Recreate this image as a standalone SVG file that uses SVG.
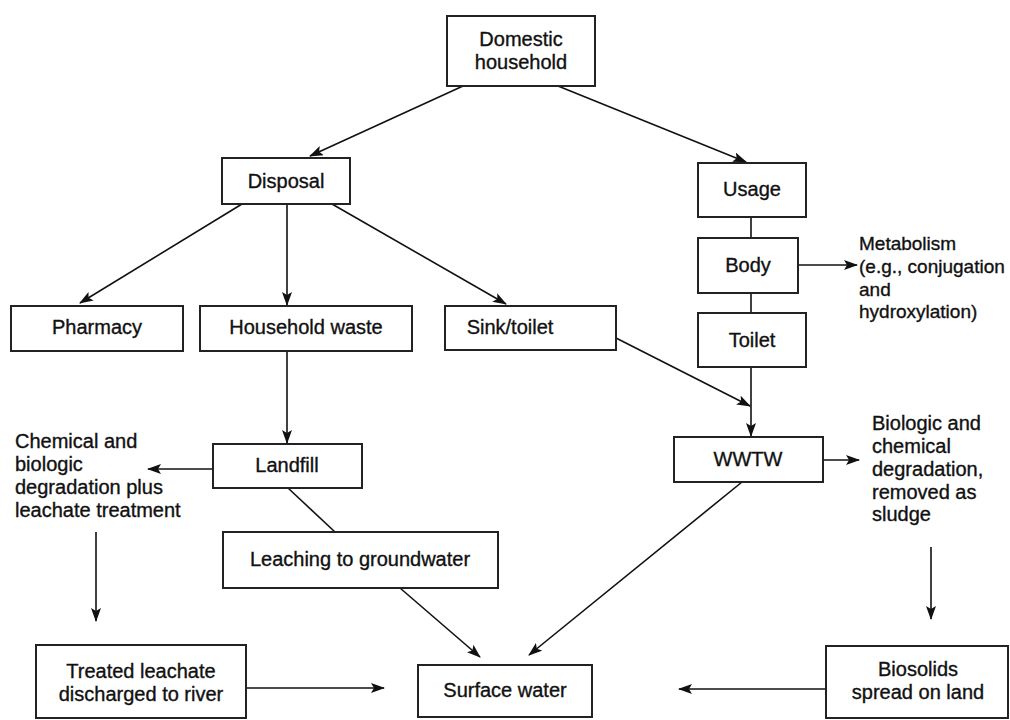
<svg xmlns="http://www.w3.org/2000/svg" width="1010" height="720" viewBox="0 0 1010 720">
<defs>
<marker id="ah" markerWidth="14" markerHeight="10" refX="13" refY="5" orient="auto" markerUnits="userSpaceOnUse">
<path d="M0,0 L14,5 L0,10 L3,5 z" fill="#111"/>
</marker>
<style>
.box{fill:#fff;stroke:#222;stroke-width:2}
.t{font-family:"Liberation Sans",Arial,sans-serif;font-size:20px;fill:#111;stroke:#111;stroke-width:0.35}
.s{font-size:19px}
.c{text-anchor:middle}
.ln{stroke:#111;stroke-width:1.6;fill:none}
.ar{stroke:#111;stroke-width:1.6;fill:none;marker-end:url(#ah)}
</style>
</defs>
<rect width="1010" height="720" fill="#fff"/>
<g id="connectors">
<line class="ar" x1="463" y1="86" x2="310" y2="156"/>
<line class="ar" x1="558" y1="86" x2="746" y2="162"/>
<line class="ar" x1="242" y1="204" x2="80" y2="303"/>
<line class="ar" x1="287" y1="204" x2="287" y2="305"/>
<line class="ar" x1="332" y1="204" x2="506" y2="304"/>
<line class="ln" x1="751" y1="217" x2="751" y2="238"/>
<line class="ln" x1="751" y1="293" x2="751" y2="313"/>
<line class="ar" x1="798" y1="265" x2="857" y2="265"/>
<line class="ar" x1="751" y1="367" x2="751" y2="436"/>
<line class="ar" x1="616" y1="338" x2="750" y2="406"/>
<line class="ar" x1="823" y1="460" x2="859" y2="460"/>
<line class="ar" x1="287" y1="351" x2="287" y2="443"/>
<line class="ar" x1="213" y1="469" x2="148" y2="469"/>
<line class="ln" x1="288" y1="488" x2="335" y2="532"/>
<line class="ar" x1="96" y1="532" x2="96" y2="621"/>
<line class="ar" x1="400" y1="588" x2="480" y2="657"/>
<line class="ar" x1="742" y1="482" x2="529" y2="655"/>
<line class="ar" x1="931" y1="547" x2="931" y2="619"/>
<line class="ar" x1="246" y1="688" x2="384" y2="688"/>
<line class="ar" x1="826" y1="689" x2="679" y2="689"/>
</g>
<g id="domestic">
<rect class="box" x="447" y="16" width="148" height="70"/>
<text class="t c" x="521" y="46">Domestic</text>
<text class="t c" x="521" y="69">household</text>
</g>
<g id="disposal">
<rect class="box" x="222" y="158" width="128" height="46"/>
<text class="t c" x="286" y="188">Disposal</text>
</g>
<g id="pharmacy">
<rect class="box" x="11" y="306" width="172" height="45"/>
<text class="t c" x="97" y="334">Pharmacy</text>
</g>
<g id="household-waste">
<rect class="box" x="200" y="306" width="212" height="45"/>
<text class="t c" x="306" y="334">Household waste</text>
</g>
<g id="sink">
<rect class="box" x="445" y="306" width="171" height="44"/>
<text class="t c" x="510" y="334">Sink/toilet</text>
</g>
<g id="usage">
<rect class="box" x="698" y="163" width="108" height="54"/>
<text class="t c" x="752" y="196">Usage</text>
</g>
<g id="body">
<rect class="box" x="698" y="238" width="100" height="55"/>
<text class="t c" x="748" y="272">Body</text>
</g>
<g id="metabolism">
<text class="t s" x="859" y="250">Metabolism</text>
<text class="t s" x="859" y="273">(e.g., conjugation</text>
<text class="t s" x="859" y="296">and</text>
<text class="t s" x="859" y="318">hydroxylation)</text>
</g>
<g id="toilet">
<rect class="box" x="698" y="313" width="108" height="54"/>
<text class="t c" x="752" y="347">Toilet</text>
</g>
<g id="wwtw">
<rect class="box" x="674" y="437" width="149" height="45"/>
<text class="t c" x="748" y="466">WWTW</text>
</g>
<g id="biologic">
<text class="t" x="872" y="430">Biologic and</text>
<text class="t" x="872" y="453">chemical</text>
<text class="t" x="872" y="476">degradation,</text>
<text class="t" x="872" y="499">removed as</text>
<text class="t" x="872" y="521">sludge</text>
</g>
<g id="landfill">
<rect class="box" x="213" y="444" width="149" height="44"/>
<text class="t c" x="287" y="472">Landfill</text>
</g>
<g id="chemical">
<text class="t" x="15" y="448">Chemical and</text>
<text class="t" x="15" y="471">biologic</text>
<text class="t" x="15" y="494">degradation plus</text>
<text class="t" x="15" y="517">leachate treatment</text>
</g>
<g id="leaching">
<rect class="box" x="223" y="532" width="275" height="56"/>
<text class="t c" x="360" y="566">Leaching to groundwater</text>
</g>
<g id="treated">
<rect class="box" x="36" y="645" width="210" height="73"/>
<text class="t c" x="141" y="678">Treated leachate</text>
<text class="t c" x="141" y="701">discharged to river</text>
</g>
<g id="surface">
<rect class="box" x="418" y="665" width="174" height="52"/>
<text class="t c" x="505" y="697">Surface water</text>
</g>
<g id="biosolids">
<rect class="box" x="826" y="646" width="182" height="72"/>
<text class="t c" x="918" y="676">Biosolids</text>
<text class="t c" x="918" y="699">spread on land</text>
</g>
</svg>
